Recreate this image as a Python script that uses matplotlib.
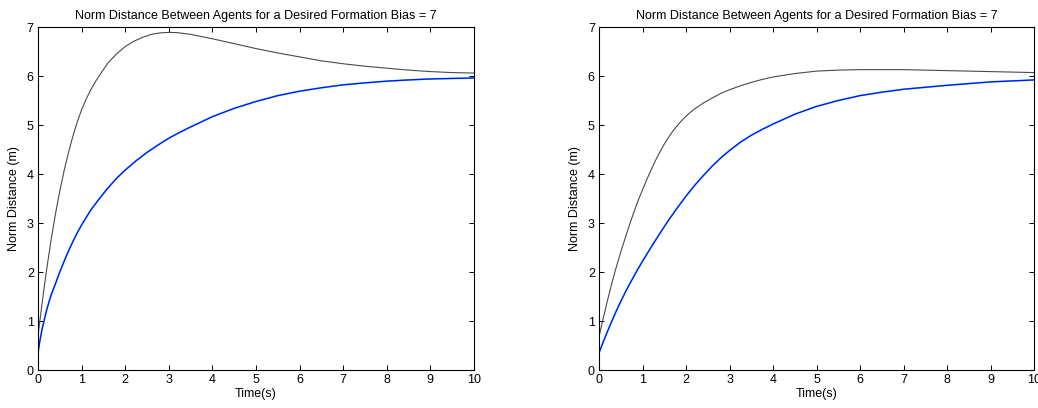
"""Norm distance between agents, two formation runs side by side."""

import matplotlib
matplotlib.use("Agg")
import matplotlib.pyplot as plt

plt.rcParams["font.family"] = ["Liberation Sans", "DejaVu Sans"]

TITLE = "Norm Distance Between Agents for a Desired Formation Bias = 7"

# ── left run ────────────────────────────────────────────────
t_left_black = [0, 0.05, 0.1, 0.15, 0.2, 0.25, 0.3, 0.35, 0.4, 0.45, 0.5,
                0.6, 0.7, 0.8, 0.9, 1.0, 1.1, 1.2, 1.3, 1.4, 1.6, 1.8, 2.0,
                2.2, 2.4, 2.6, 2.8, 3.0, 3.2, 3.5, 4.0, 4.5, 5.0, 5.5, 6.0,
                6.5, 7.0, 7.5, 8.0, 8.5, 9.0, 9.5, 10.0]
d_left_black = [0.7, 1.05, 1.4, 1.74, 2.06, 2.36, 2.65, 2.92, 3.18, 3.42, 3.65,
                4.07, 4.44, 4.77, 5.06, 5.31, 5.52, 5.70, 5.86, 6.0, 6.26, 6.45,
                6.6, 6.71, 6.79, 6.85, 6.88, 6.89, 6.885, 6.85, 6.76, 6.66,
                6.56, 6.47, 6.39, 6.31, 6.25, 6.20, 6.16, 6.12, 6.09, 6.07, 6.06]

t_left_blue = [0, 0.05, 0.1, 0.2, 0.3, 0.4, 0.5, 0.6, 0.7, 0.8, 0.9, 1.0,
               1.2, 1.4, 1.6, 1.8, 2.0, 2.25, 2.5, 2.75, 3.0, 3.25, 3.5, 4.0,
               4.5, 5.0, 5.5, 6.0, 6.5, 7.0, 7.5, 8.0, 8.5, 9.0, 9.5, 10.0]
d_left_blue = [0.35, 0.63, 0.86, 1.23, 1.53, 1.76, 2.0, 2.22, 2.43, 2.62, 2.80,
               2.96, 3.25, 3.49, 3.71, 3.91, 4.08, 4.27, 4.44, 4.59, 4.73, 4.85,
               4.96, 5.17, 5.34, 5.48, 5.60, 5.69, 5.76, 5.82, 5.86, 5.895,
               5.92, 5.94, 5.95, 5.96]

# ── right run ───────────────────────────────────────────────
t_right_black = [0, 0.1, 0.2, 0.3, 0.4, 0.5, 0.6, 0.7, 0.8, 0.9, 1.0, 1.1,
                 1.2, 1.3, 1.4, 1.5, 1.6, 1.7, 1.8, 1.9, 2.0, 2.1, 2.2, 2.4,
                 2.6, 2.8, 3.0, 3.25, 3.5, 3.75, 4.0, 4.5, 5.0, 5.5, 6.0, 7.0,
                 7.5, 8.0, 8.5, 9.0, 9.5, 10.0]
d_right_black = [0.68, 1.07, 1.44, 1.79, 2.11, 2.41, 2.69, 2.96, 3.22, 3.46,
                 3.68, 3.89, 4.09, 4.28, 4.45, 4.61, 4.75, 4.88, 4.99, 5.09,
                 5.18, 5.26, 5.33, 5.45, 5.55, 5.645, 5.72, 5.80, 5.87, 5.93,
                 5.98, 6.05, 6.10, 6.12, 6.13, 6.13, 6.12, 6.11, 6.10, 6.09,
                 6.08, 6.07]

t_right_blue = [0, 0.1, 0.2, 0.3, 0.4, 0.5, 0.6, 0.7, 0.8, 0.9, 1.0, 1.2,
                1.4, 1.6, 1.8, 2.0, 2.2, 2.4, 2.6, 2.8, 3.0, 3.25, 3.5, 3.75,
                4.0, 4.5, 5.0, 5.5, 6.0, 6.5, 7.0, 7.5, 8.0, 8.5, 9.0, 9.5,
                10.0]
d_right_blue = [0.35, 0.58, 0.80, 1.01, 1.21, 1.40, 1.58, 1.75, 1.91, 2.07,
                2.22, 2.51, 2.79, 3.06, 3.31, 3.55, 3.77, 3.97, 4.16, 4.33,
                4.48, 4.65, 4.79, 4.91, 5.02, 5.22, 5.38, 5.50, 5.60, 5.67,
                5.73, 5.77, 5.81, 5.845, 5.88, 5.90, 5.92]

x_ticks = list(range(0, 11))
y_ticks = list(range(0, 8))

fig = plt.figure(figsize=(10.38, 4.08), dpi=100)
ax_left = fig.add_axes([0.0366, 0.0931, 0.4200, 0.8407])
ax_right = fig.add_axes([0.5771, 0.0931, 0.4191, 0.8407])

runs = [
    (ax_left, t_left_black, d_left_black, t_left_blue, d_left_blue),
    (ax_right, t_right_black, d_right_black, t_right_blue, d_right_blue),
]

for ax, tb, db, tu, du in runs:
    # other agents sit right under the blue trace
    ax.plot(tu, du, color="#44dddd", linewidth=1.3)
    ax.plot(tu, du, color="#0a0aff", linewidth=0.9)
    ax.plot(tb, db, color="#4a4a4a", linewidth=0.8)

    ax.set_xlim(0, 10)
    ax.set_ylim(0, 7)
    ax.set_xticks(x_ticks)
    ax.set_yticks(y_ticks)
    ax.tick_params(direction="in", length=3.5, width=0.7, top=True, right=True,
                   labelsize=9, colors="black")
    ax.tick_params(axis="x", pad=3)
    ax.tick_params(axis="y", pad=3)
    for spine in ax.spines.values():
        spine.set_linewidth(0.8)

    ax.set_title(TITLE, fontsize=9, pad=6)
    ax.set_xlabel("Time(s)", fontsize=9, labelpad=1)
    ax.set_ylabel("Norm Distance (m)", fontsize=9)
    ax.yaxis.set_label_coords(-0.042, 0.5)

fig.savefig("out.png", dpi=100, facecolor="white")
plt.close(fig)
